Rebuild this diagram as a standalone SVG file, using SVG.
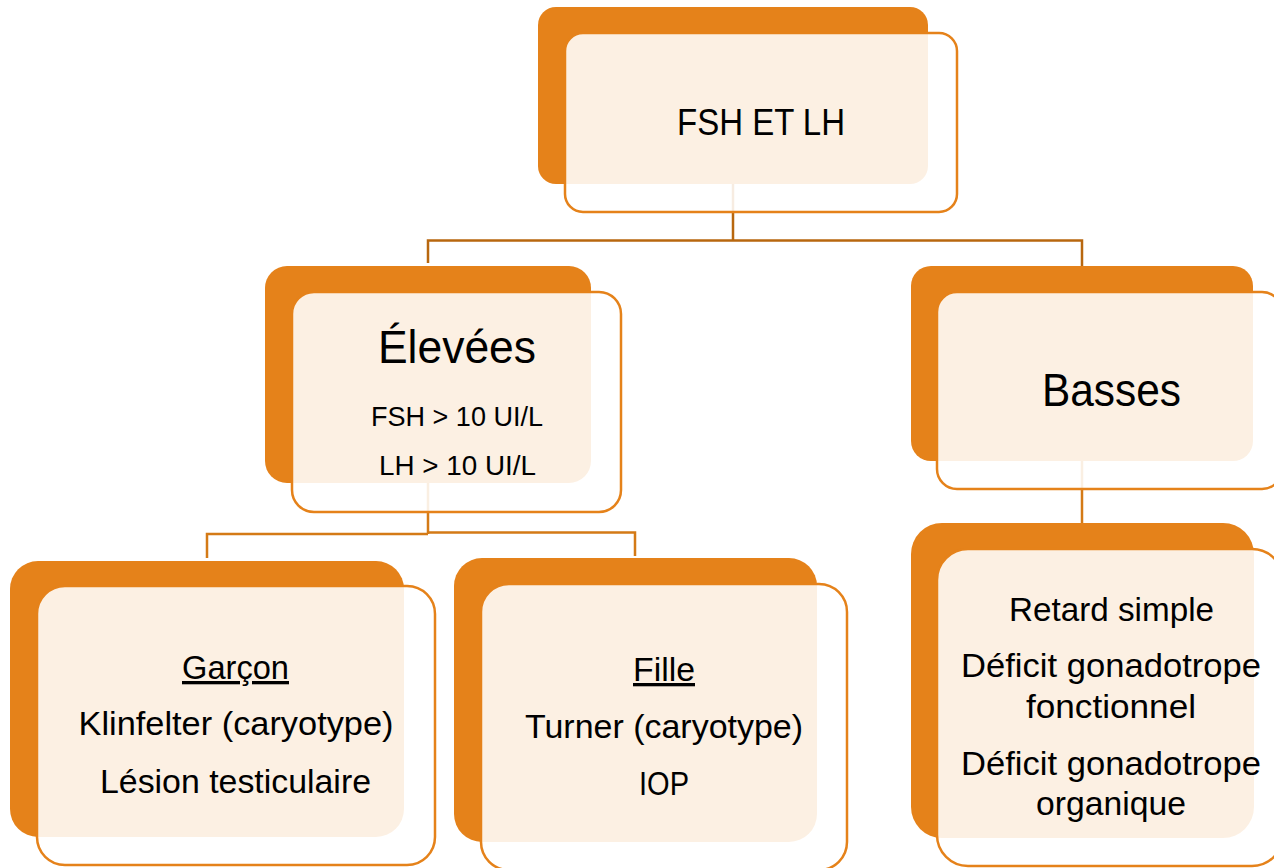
<svg xmlns="http://www.w3.org/2000/svg" width="1274" height="868" viewBox="0 0 1274 868">
<style>
.back{fill:#E5821A}
.front{fill:#FFFFFF;fill-opacity:0.88;stroke:#E5821A;stroke-width:2.5}
.t{font-family:"Liberation Sans",Arial,sans-serif;fill:#000;text-anchor:middle}
.c1{fill:none;stroke:#B8670F;stroke-width:2.5}
.c2{fill:none;stroke:#D47A16;stroke-width:2.5}
</style>
<rect width="1274" height="868" fill="#FFFFFF"/>
<g id="connectors">
<path class="c1" d="M733 184 V240.5 M428 263 V240.5 H1082 V266"/>
<path class="c2" d="M428 483 V534 M207 558 V534 H428 M428 532.5 H635 V556"/>
<path class="c2" d="M1082 461 V523"/>
</g>
<g id="node-fsh-lh">
<rect class="back" x="538" y="7" width="390" height="177" rx="18"/>
<rect class="front" x="565" y="33" width="392" height="179" rx="18"/>
<text class="t" x="761" y="135" font-size="37.5" textLength="168" lengthAdjust="spacingAndGlyphs">FSH ET LH</text>
</g>
<g id="node-elevees">
<rect class="back" x="265" y="266" width="326" height="217" rx="22"/>
<rect class="front" x="292" y="292" width="329" height="220" rx="22"/>
<text class="t" x="457" y="363" font-size="46" textLength="158" lengthAdjust="spacingAndGlyphs">Élevées</text>
<text class="t" x="457" y="426" font-size="27" textLength="172" lengthAdjust="spacingAndGlyphs">FSH &gt; 10 UI/L</text>
<text class="t" x="457.5" y="475" font-size="27" textLength="157" lengthAdjust="spacingAndGlyphs">LH &gt; 10 UI/L</text>
</g>
<g id="node-basses">
<rect class="back" x="911" y="266" width="342" height="195" rx="20"/>
<rect class="front" x="937" y="292" width="345" height="197" rx="20"/>
<text class="t" x="1111.5" y="406" font-size="46" textLength="139" lengthAdjust="spacingAndGlyphs">Basses</text>
</g>
<g id="node-garcon">
<rect class="back" x="10" y="561" width="394" height="276" rx="28"/>
<rect class="front" x="37" y="586" width="398" height="279" rx="28"/>
<text class="t" x="235.5" y="679" font-size="33" textLength="107" lengthAdjust="spacingAndGlyphs" text-decoration="underline">Garçon</text>
<text class="t" x="236" y="735" font-size="33" textLength="315" lengthAdjust="spacingAndGlyphs">Klinfelter (caryotype)</text>
<text class="t" x="235.5" y="793" font-size="33" textLength="271" lengthAdjust="spacingAndGlyphs">Lésion testiculaire</text>
</g>
<g id="node-fille">
<rect class="back" x="454" y="558" width="363" height="284" rx="28"/>
<rect class="front" x="481" y="584" width="366" height="286" rx="28"/>
<text class="t" x="664" y="681" font-size="33" textLength="62" lengthAdjust="spacingAndGlyphs" text-decoration="underline">Fille</text>
<text class="t" x="664" y="738" font-size="33" textLength="278" lengthAdjust="spacingAndGlyphs">Turner (caryotype)</text>
<text class="t" x="664" y="795" font-size="33" textLength="50" lengthAdjust="spacingAndGlyphs">IOP</text>
</g>
<g id="node-retard">
<rect class="back" x="911" y="523" width="343" height="315" rx="31"/>
<rect class="front" x="937" y="549" width="346" height="317" rx="31"/>
<text class="t" x="1111.5" y="621" font-size="33" textLength="205" lengthAdjust="spacingAndGlyphs">Retard simple</text>
<text class="t" x="1111" y="677" font-size="33" textLength="300" lengthAdjust="spacingAndGlyphs">Déficit gonadotrope</text>
<text class="t" x="1111" y="718" font-size="33" textLength="170" lengthAdjust="spacingAndGlyphs">fonctionnel</text>
<text class="t" x="1111" y="775" font-size="33" textLength="300" lengthAdjust="spacingAndGlyphs">Déficit gonadotrope</text>
<text class="t" x="1111" y="815" font-size="33" textLength="150" lengthAdjust="spacingAndGlyphs">organique</text>
</g>
</svg>
